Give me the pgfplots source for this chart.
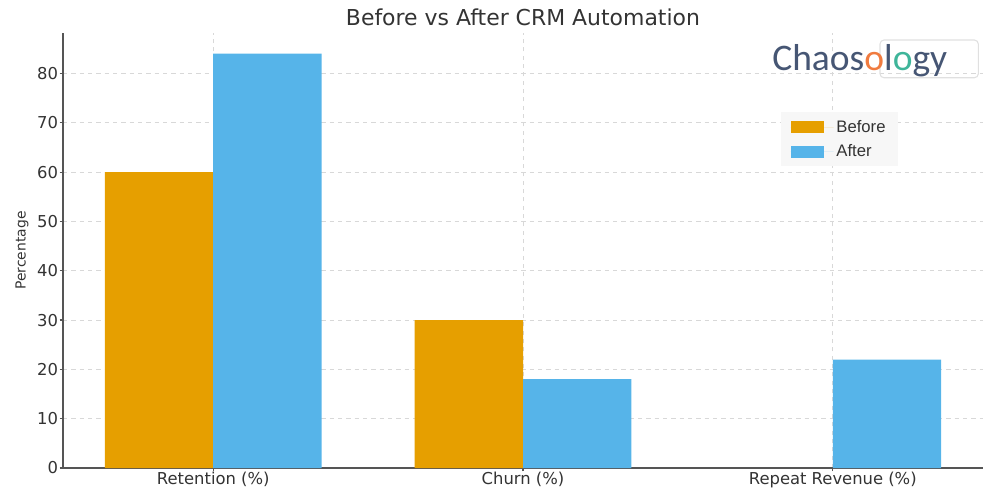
\documentclass[border=0pt]{standalone}
\usepackage{fontspec}
\setmainfont{DejaVu Sans}
\newfontfamily\legfont{Liberation Sans}
\newfontfamily\logofont{Carlito}
\usepackage{xcolor}
\usepackage{pgfplots}
\pgfplotsset{compat=1.18}
\definecolor{before}{HTML}{E69F00}
\definecolor{after}{HTML}{56B4E9}
\definecolor{txt}{HTML}{333333}
\definecolor{spine}{HTML}{555555}
\definecolor{gridc}{HTML}{D8D8D8}
\definecolor{logoc}{HTML}{465674}

\begin{document}
\begin{tikzpicture}
\path[use as bounding box] (0,0) rectangle (720pt,360pt);
\begin{axis}[
  at={(45.36pt,23.04pt)}, anchor=south west,
  scale only axis, width=662.4pt, height=313.2pt,
  xmin=-0.485, xmax=2.485, ymin=0, ymax=88.2,
  axis lines=left, axis line style={spine, line width=1pt, -},
  xtick={0,1,2},
  xticklabels={Retention (\%), Churn (\%), Repeat Revenue (\%)},
  ytick={0,10,...,80},
  tick align=outside, major tick length=2.5pt,
  tick style={spine, line width=0.8pt},
  tick label style={font=\fontsize{11.8}{14}\selectfont, text=txt},
  xticklabel style={yshift=3.2pt},
  yticklabel style={xshift=2.5pt},
  /pgf/number format/assume math mode=true,
  grid=major, grid style={gridc, dashed, line width=0.5pt},
  title={Before vs After CRM Automation},
  title style={font=\fontsize{15.8}{18}\selectfont, text=txt,
               at={(0.5,1)}, anchor=base, yshift=-0.6pt},
  ylabel={Percentage},
  ylabel style={font=\fontsize{10}{12}\selectfont, text=txt,
                at={(axis description cs:-0.0446,0.5)}, anchor=center},
  legend style={at={(0.780,0.818)}, anchor=north west, fill=black!3,
                draw=none, font=\legfont\fontsize{12}{14}\selectfont,
                text=txt, row sep=3.5pt, inner xsep=7pt, inner ysep=3.5pt},
  legend cell align=left,
  legend image code/.code={\path[#1] (0pt,-4.3pt) rectangle (23.8pt,4.3pt);
                           \path (0pt,0pt) -- (31pt,0pt);},
]
\addplot[ybar, bar width=0.35, bar shift=-0.175, fill=before, draw=none]
  coordinates {(0,60) (1,30)};
\addlegendentry{Before}
\addplot[ybar, bar width=0.35, bar shift=0.175, fill=after, draw=none]
  coordinates {(0,84) (1,18) (2,22)};
\addlegendentry{After}
\draw[black!12, rounded corners=3pt, line width=0.8pt]
  (axis description cs:0.888,0.984) rectangle (axis description cs:0.995,0.897);
\node[font=\logofont\fontsize{27}{30}\selectfont, text=logoc, anchor=center]
  at (axis description cs:0.866,0.936)
  {Chaos\textcolor[HTML]{F07B3F}{o}l\textcolor[HTML]{3FB59A}{o}gy};
\end{axis}
\end{tikzpicture}
\end{document}
